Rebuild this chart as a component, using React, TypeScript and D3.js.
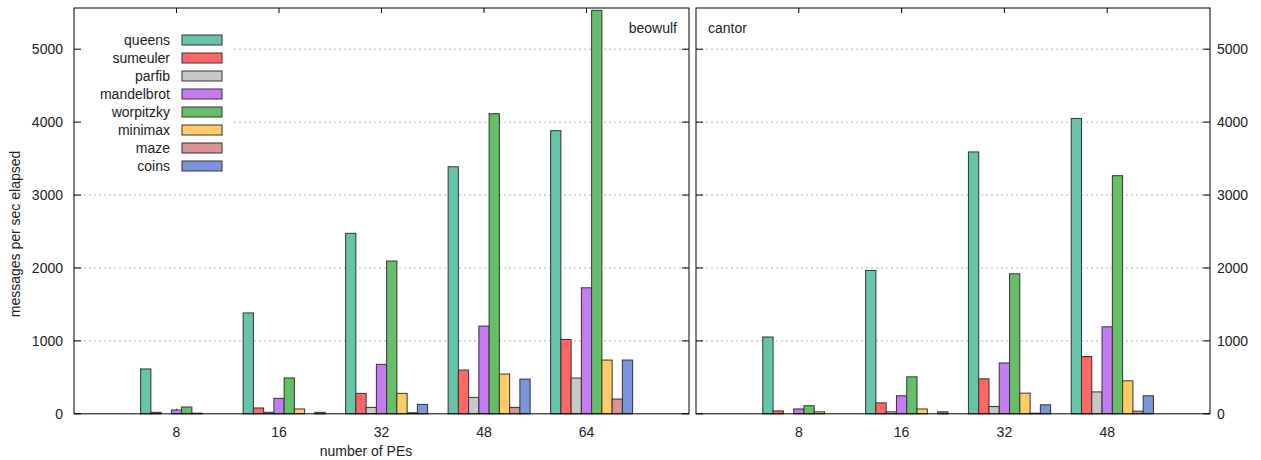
import React from 'react';
import * as d3 from 'd3';

// data
const seriesNames = ['queens', 'sumeuler', 'parfib', 'mandelbrot', 'worpitzky', 'minimax', 'maze', 'coins'];
const seriesColors = ['#66c4aa', '#ff6666', '#c8c8c8', '#c57cf2', '#66bf66', '#ffcc66', '#d99393', '#7b95dc'];

const beowulfPEs = ['8', '16', '32', '48', '64'];
const beowulfQueens = [615, 1383, 2475, 3388, 3882];
const beowulfSumeuler = [20, 80, 280, 600, 1020];
const beowulfParfib = [0, 20, 88, 225, 490];
const beowulfMandelbrot = [52, 212, 678, 1203, 1728];
const beowulfWorpitzky = [93, 491, 2095, 4115, 5533];
const beowulfMinimax = [8, 66, 280, 545, 737];
const beowulfMaze = [0, 0, 14, 88, 202];
const beowulfCoins = [0, 20, 129, 476, 737];

const cantorPEs = ['8', '16', '32', '48'];
const cantorQueens = [1053, 1966, 3591, 4050];
const cantorSumeuler = [40, 150, 480, 785];
const cantorParfib = [0, 27, 100, 300];
const cantorMandelbrot = [66, 247, 697, 1193];
const cantorWorpitzky = [110, 507, 1920, 3265];
const cantorMinimax = [27, 66, 283, 452];
const cantorMaze = [0, 0, 8, 37];
const cantorCoins = [0, 27, 123, 247];

const yTicks = [0, 1000, 2000, 3000, 4000, 5000];

const beowulf = [beowulfQueens, beowulfSumeuler, beowulfParfib, beowulfMandelbrot, beowulfWorpitzky, beowulfMinimax, beowulfMaze, beowulfCoins];
const cantor = [cantorQueens, cantorSumeuler, cantorParfib, cantorMandelbrot, cantorWorpitzky, cantorMinimax, cantorMaze, cantorCoins];

const font = 'Liberation Sans, Arial, sans-serif';
const top = 8;
const bottom = 413.8;
const y = d3.scaleLinear().domain([0, 5565]).range([bottom, top]);

const Panel = ({x0, x1, pes, values, label, side}) => {
  const x = d3.scaleLinear().domain([-1, pes.length]).range([x0, x1]);
  const bw = x(0.1) - x(0);
  return (
    <g>
      {yTicks.filter(t => t > 0).map(t => (
        <line key={'g' + t} x1={x0} x2={x1} y1={y(t)} y2={y(t)} stroke="#b4b4b4" strokeDasharray="2,3" />
      ))}
      {side === 'left' && (
        <rect x={x0 + 1} y={26} width={231 - x0 - 1} height={150} fill="#fff" />
      )}
      {/* y ticks, mirrored on both borders */}
      {yTicks.map(t => (
        <g key={'t' + t}>
          <line x1={x0} x2={x0 + 7} y1={y(t)} y2={y(t)} stroke="#000" />
          <line x1={x1} x2={x1 - 7} y1={y(t)} y2={y(t)} stroke="#000" />
        </g>
      ))}
      {pes.map((p, i) => (
        <g key={'x' + p}>
          <line x1={x(i)} x2={x(i)} y1={bottom} y2={bottom - 5} stroke="#000" />
          <line x1={x(i)} x2={x(i)} y1={top} y2={top + 5} stroke="#000" />
          <text x={x(i)} y={437} textAnchor="middle" fontSize={14} fill="#222">{p}</text>
        </g>
      ))}
      {values.map((vals, j) => vals.map((v, i) => v > 0 && (
        <rect key={j + '-' + i}
          x={x(i + (j - 3.5) / 10)} y={y(v)} width={bw} height={bottom - y(v)}
          fill={seriesColors[j]} stroke="#333" strokeWidth={1} />
      )))}
      <rect x={x0} y={top} width={x1 - x0} height={bottom - top} fill="none" stroke="#000" />
      {side === 'left'
        ? <text x={x1 - 12} y={33} textAnchor="end" fontSize={14} fill="#222">{label}</text>
        : <text x={x0 + 12} y={33} textAnchor="start" fontSize={14} fill="#222">{label}</text>}
    </g>
  );
};

const App = () => {
  return (
    <svg width={1261} height={460} style={{position: 'absolute', left: 0, top: 0}} fontFamily={font}>
      <rect width={1261} height={460} fill="#fff" />
      <Panel x0={74} x1={689} pes={beowulfPEs} values={beowulf} label="beowulf" side="left" />
      <Panel x0={696} x1={1210} pes={cantorPEs} values={cantor} label="cantor" side="right" />
      {yTicks.map(t => (
        <g key={'yl' + t}>
          <text x={63} y={y(t) + 5} textAnchor="end" fontSize={14} fill="#222">{t}</text>
          <text x={1217} y={y(t) + 5} textAnchor="start" fontSize={14} fill="#222">{t}</text>
        </g>
      ))}
      <text transform="translate(20,234) rotate(-90)" textAnchor="middle" fontSize={14} fill="#222">messages per sec elapsed</text>
      <text x={366} y={456} textAnchor="middle" fontSize={14} fill="#222">number of PEs</text>
      {seriesNames.map((s, j) => (
        <g key={s}>
          <text x={170} y={40 + j * 18 + 5} textAnchor="end" fontSize={14} fill="#222">{s}</text>
          <rect x={182} y={40 + j * 18 - 5} width={40} height={10} fill={seriesColors[j]} stroke="#333" />
        </g>
      ))}
    </svg>
  );
};

export default App;
